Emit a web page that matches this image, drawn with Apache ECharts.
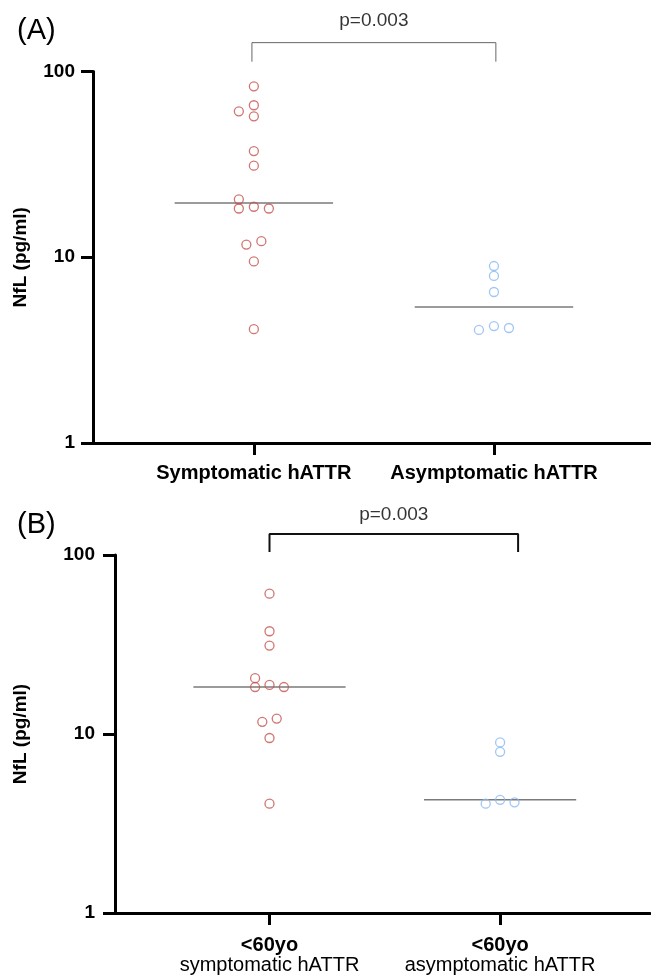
<!DOCTYPE html>
<html>
<head>
<meta charset="utf-8">
<script src="https://cdn.jsdelivr.net/npm/echarts@6/dist/echarts.min.js"></script>
<style>
  html, body { margin: 0; padding: 0; background: #fff; }
  #chart { width: 651px; height: 980px; }
</style>
</head>
<body>
<div id="chart"></div>
<script>
// categories
const groupsA = ['Symptomatic hATTR', 'Asymptomatic hATTR']
const groupsB = [['<60yo', 'symptomatic hATTR'], ['<60yo', 'asymptomatic hATTR']]

// NfL values (pg/ml)
const symA = [83.2, 65.8, 61.0, 57.4, 37.3, 31.1, 20.5, 18.3, 18.7, 18.3, 12.2, 11.7, 9.5, 4.1]
const symAJitter = [0, 0, -1, 0, 0, 0, -1, -1, 0, 1, 0.5, -0.5, 0, 0]
const asymA = [8.97, 7.93, 6.5, 4.26, 4.16, 4.06]
const asymAJitter = [0, 0, 0, 0, 1, -1]
const medianA = [19.6, 5.4]

const symB = [60.8, 37.5, 31.2, 20.5, 18.3, 18.8, 18.3, 12.2, 11.7, 9.5, 4.08]
const symBJitter = [0, 0, 0, -1, -1, 0, 1, 0.5, -0.5, 0, 0]
const asymB = [8.97, 7.95, 4.29, 4.15, 4.08]
const asymBJitter = [0, 0, 0, 1, -1]
const medianB = [18.3, 4.29]

// significance brackets: [from group, to group, low, high] and p text
const bracketA = [-0.008, 1.008, 113, 143]
const bracketB = [0, 1.078, 104, 131]
const pTextA = 'p=0.003'
const pTextB = 'p=0.003'
const pLevelA = 188
const pLevelB = 167

const yTicks = [1, 10, 100]

const FONT = '"Liberation Sans", Arial, sans-serif'
const JIT = 0.0625
const HALF = 0.33
const RED = '#c4524f'
const BLUE = '#8ab8f2'

const chart = echarts.init(document.getElementById('chart'), null, { renderer: 'canvas' })

function points(vals, jit, g) {
  return vals.map((v, k) => [g + jit[k] * JIT, v])
}

function panelSeries(i, sym, symJ, asym, asymJ, med, br, pText, pLevel, brColor, brWidth) {
  const base = { xAxisIndex: i, yAxisIndex: i, animation: false, silent: true }
  return [
    Object.assign({}, base, {
      type: 'line', data: [[0 - HALF, med[0]], [0 + HALF, med[0]]],
      symbol: 'none', lineStyle: { color: '#7a7a7a', width: 1.5 }, z: 2
    }),
    Object.assign({}, base, {
      type: 'line', data: [[1 - HALF, med[1]], [1 + HALF, med[1]]],
      symbol: 'none', lineStyle: { color: '#7a7a7a', width: 1.5 }, z: 2
    }),
    Object.assign({}, base, {
      type: 'scatter', data: points(sym, symJ, 0), symbol: 'circle', symbolSize: 9,
      itemStyle: { color: 'rgba(0,0,0,0)', borderColor: RED, borderWidth: 1.3 }, z: 3
    }),
    Object.assign({}, base, {
      type: 'scatter', data: points(asym, asymJ, 1), symbol: 'circle', symbolSize: 9,
      itemStyle: { color: 'rgba(0,0,0,0)', borderColor: BLUE, borderWidth: 1.3 }, z: 3
    }),
    Object.assign({}, base, {
      type: 'line', clip: false, symbol: 'none',
      data: [[br[0], br[2]], [br[0], br[3]], [br[1], br[3]], [br[1], br[2]]],
      lineStyle: { color: brColor, width: brWidth }
    }),
    Object.assign({}, base, {
      type: 'scatter', clip: false, symbolSize: 1,
      itemStyle: { color: 'rgba(0,0,0,0)' },
      data: [[(br[0] + br[1]) / 2, pLevel]],
      label: {
        show: true, position: 'inside', formatter: pText,
        fontFamily: FONT, fontSize: 19, color: '#000', textBorderWidth: 0
      }
    })
  ]
}

function xAxis(i, formatter, margin, rich) {
  return {
    gridIndex: i, type: 'value', min: -0.67, max: 1.65,
    splitLine: { show: false },
    axisLine: { onZero: false, lineStyle: { color: '#000', width: 3 } },
    axisTick: { customValues: [0, 1], length: 12, lineStyle: { color: '#000', width: 3 } },
    axisLabel: {
      customValues: [0, 1], formatter: formatter, margin: margin,
      fontFamily: FONT, fontSize: 20, fontWeight: 'bold', color: '#000', rich: rich
    }
  }
}

function yAxis(i, gap, margin) {
  return {
    gridIndex: i, type: 'log', logBase: 10, min: yTicks[0], max: yTicks[2], interval: 1,
    name: 'NfL (pg/ml)', nameLocation: 'middle', nameRotate: 90, nameGap: gap,
    nameTextStyle: { fontFamily: FONT, fontSize: 19, fontWeight: 'bold', color: '#000' },
    splitLine: { show: false },
    minorTick: { show: false },
    axisLine: { show: true, onZero: false, lineStyle: { color: '#000', width: 3 } },
    axisTick: { show: true, length: 12, lineStyle: { color: '#000', width: 3 } },
    axisLabel: { margin: margin, fontFamily: FONT, fontSize: 19, fontWeight: 'bold', color: '#000' }
  }
}

chart.setOption({
  backgroundColor: '#fff',
  animation: false,
  title: [
    { text: '(A)', left: 12, top: 11, textStyle: { fontFamily: FONT, fontSize: 29, fontWeight: 'normal', color: '#000' } },
    { text: '(B)', left: 12, top: 505, textStyle: { fontFamily: FONT, fontSize: 29, fontWeight: 'normal', color: '#000' } }
  ],
  grid: [
    { left: 93, right: 1, top: 71.5, height: 371.5 },
    { left: 115, right: 1, top: 555, height: 358 }
  ],
  xAxis: [
    xAxis(0, v => groupsA[Math.round(v)], 20),
    xAxis(1, v => '{b|' + groupsB[Math.round(v)][0] + '}\n{n|' + groupsB[Math.round(v)][1] + '}', 22, {
      b: { fontFamily: FONT, fontSize: 20, fontWeight: 'bold', color: '#000', lineHeight: 20 },
      n: { fontFamily: FONT, fontSize: 20, fontWeight: 'normal', color: '#000', lineHeight: 20 }
    })
  ],
  yAxis: [yAxis(0, 63, 18), yAxis(1, 85, 20)],
  series: [].concat(
    panelSeries(0, symA, symAJitter, asymA, asymAJitter, medianA, bracketA, pTextA, pLevelA, '#666', 1),
    panelSeries(1, symB, symBJitter, asymB, asymBJitter, medianB, bracketB, pTextB, pLevelB, '#111', 2)
  )
})
</script>
</body>
</html>
